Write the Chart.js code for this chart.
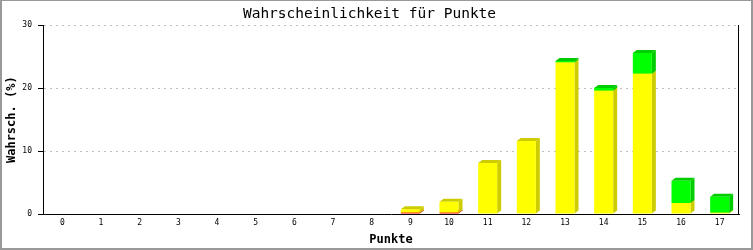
<!DOCTYPE html>
<html>
<head>
<meta charset="utf-8">
<script src="https://cdn.jsdelivr.net/npm/chart.js@4.4.0/dist/chart.umd.min.js"></script>
<style>
  html, body { margin: 0; padding: 0; background: #ffffff; }
  canvas { display: block; }
</style>
</head>
<body>
<canvas id="c" width="753" height="250"></canvas>
<script>
const categories = ['0','1','2','3','4','5','6','7','8','9','10','11','12','13','14','15','16','17'];
const redValues    = [0,0,0,0,0,0,0,0,0,0.2,0.2,0,0,0,0,0,0,0];
const yellowValues = [0,0,0,0,0,0,0,0,0,0.55,1.75,8.1,11.6,24.1,19.6,22.3,1.75,0.2];
const greenValues  = [0,0,0,0,0,0,0,0,0,0,0,0,0,0.25,0.45,3.3,3.55,2.55];
const yTickValues  = [0, 10, 20, 30];

const titleText = 'Wahrscheinlichkeit für Punkte';
const xTitle = 'Punkte';
const yTitle = 'Wahrsch. (%)';

const MONO = "'DejaVu Sans Mono', 'Liberation Mono', monospace";
const sideColors = ['#cc0000', '#cccc00', '#00cc00'];
const DX = 4, DY = 3;

const bar3d = {
  id: 'bar3d',
  beforeDatasetsDraw(chart) {
    const ctx = chart.ctx;
    ctx.save();
    chart.data.datasets.forEach((ds, i) => {
      const meta = chart.getDatasetMeta(i);
      meta.data.forEach((el) => {
        const {x, y, base, width} = el.getProps(['x', 'y', 'base', 'width'], true);
        if (Math.abs(base - y) < 0.1) return;
        const l = x - width / 2, r = x + width / 2;
        const top = Math.min(y, base), bot = Math.max(y, base);
        ctx.fillStyle = sideColors[i];
        ctx.beginPath();
        ctx.moveTo(r, top);
        ctx.lineTo(r + DX, top - DY);
        ctx.lineTo(r + DX, bot - DY);
        ctx.lineTo(r, bot);
        ctx.closePath();
        ctx.fill();
        ctx.beginPath();
        ctx.moveTo(l, top);
        ctx.lineTo(l + DX, top - DY);
        ctx.lineTo(r + DX, top - DY);
        ctx.lineTo(r, top);
        ctx.closePath();
        ctx.fill();
      });
    });
    ctx.restore();
  },
  afterDraw(chart) {
    const ctx = chart.ctx;
    const a = chart.chartArea;
    ctx.save();
    ctx.strokeStyle = '#000000';
    ctx.lineWidth = 1;
    ctx.beginPath();
    const rx = Math.round(a.right) - 0.5;
    ctx.moveTo(rx, Math.round(a.top));
    ctx.lineTo(rx, Math.round(a.bottom) + 0.5);
    ctx.stroke();
    ctx.fillStyle = '#999999';
    const W = chart.width, H = chart.height;
    ctx.fillRect(0, 0, W, 1);
    ctx.fillRect(0, 0, 2, H);
    ctx.fillRect(W - 2, 0, 2, H);
    ctx.fillRect(0, H - 2, W, 2);
    ctx.restore();
  }
};

new Chart(document.getElementById('c'), {
  type: 'bar',
  data: {
    labels: categories,
    datasets: [
      { label: 'rot', data: redValues, backgroundColor: '#ff0000', stack: 's' },
      { label: 'gelb', data: yellowValues, backgroundColor: '#ffff00', stack: 's' },
      { label: 'grün', data: greenValues, backgroundColor: '#00ff00', stack: 's' }
    ]
  },
  options: {
    responsive: false,
    animation: false,
    devicePixelRatio: 1,
    layout: { padding: { left: 0, right: 14, top: 0, bottom: 0 } },
    datasets: { bar: { barThickness: 19, borderWidth: 0, inflateAmount: 0 } },
    plugins: {
      legend: { display: false },
      tooltip: { enabled: false },
      title: {
        display: true,
        text: titleText,
        color: '#000000',
        font: { family: MONO, size: 14.5, weight: 'normal', lineHeight: 1.2 },
        padding: { top: 6, bottom: 2 }
      }
    },
    scales: {
      x: {
        stacked: true,
        z: 1,
        grid: { display: false, drawTicks: false },
        border: { display: true, color: '#000000', width: 1 },
        ticks: { color: '#000000', font: { family: MONO, size: 8 }, padding: 4, maxRotation: 0, autoSkip: false },
        title: { display: true, text: xTitle, color: '#000000', font: { family: MONO, size: 12, weight: 'bold', lineHeight: 1.2 }, padding: { top: 0, bottom: 3 } },
        afterFit(scale) { scale.height = 36; }
      },
      y: {
        stacked: true,
        min: 0,
        max: 30,
        afterBuildTicks(scale) { scale.ticks = yTickValues.map(v => ({ value: v })); },
        grid: {
          color: (c) => (c.tick && c.tick.value === 0) ? 'rgba(0,0,0,0)' : '#c0c0c0',
          tickColor: '#000000',
          tickLength: 5,
          drawTicks: true,
          lineWidth: 1
        },
        border: { display: true, color: '#000000', width: 1, dash: [2, 4] },
        ticks: { color: '#000000', font: { family: MONO, size: 8 }, padding: 6 },
        title: { display: true, text: yTitle, color: '#000000', font: { family: MONO, size: 12, weight: 'bold', lineHeight: 1.2 }, padding: { top: 5, bottom: 0 } },
        afterFit(scale) { scale.width = 43; }
      }
    }
  },
  plugins: [bar3d]
});
</script>
</body>
</html>
